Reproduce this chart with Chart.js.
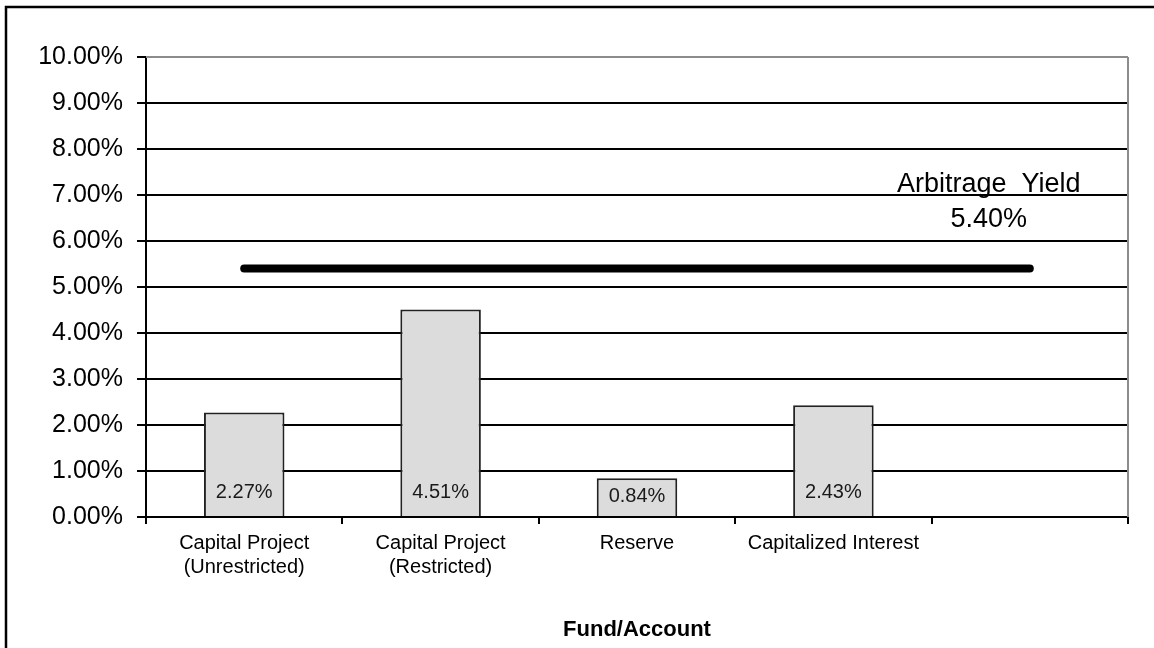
<!DOCTYPE html>
<html>
<head>
<meta charset="utf-8">
<script src="https://cdn.jsdelivr.net/npm/chart.js@4"></script>
<style>
  html, body { margin: 0; padding: 0; background: #fff; }
  #wrap { width: 1154px; height: 648px; position: relative; }
</style>
</head>
<body>
<div id="wrap"><canvas id="c" width="1154" height="648"></canvas></div>
<script>
// ---- data ----
const categories = [["Capital Project", "(Unrestricted)"], ["Capital Project", "(Restricted)"], "Reserve", "Capitalized Interest", ""];
const yieldValues = [2.27, 4.51, 0.84, 2.43, null];
const arbitrageYield = [5.40, 5.40, 5.40, 5.40, 5.40];
const arbitrageLabel = "Arbitrage  Yield";
const xAxisTitle = "Fund/Account";
const yMin = 0, yMax = 10, yStep = 1;

const FONT = "'Liberation Sans', Arial, sans-serif";

const decorPlugin = {
  id: 'decor',
  beforeDraw(chart) {
    const ctx = chart.ctx;
    ctx.save();
    ctx.fillStyle = '#fff';
    ctx.fillRect(0, 0, chart.width, chart.height);
    ctx.strokeStyle = '#000';
    ctx.lineWidth = 2.5;
    ctx.strokeRect(6, 7, 1180, 700);
    ctx.restore();
  },
  beforeDatasetsDraw(chart) {
    const ctx = chart.ctx, a = chart.chartArea;
    ctx.save();
    ctx.strokeStyle = '#8c8c8c';
    ctx.lineWidth = 2;
    ctx.beginPath();
    ctx.moveTo(a.right, a.top);
    ctx.lineTo(a.right, a.bottom);
    ctx.moveTo(a.left, a.top);
    ctx.lineTo(a.right, a.top);
    ctx.stroke();
    ctx.restore();
  },
  afterDatasetsDraw(chart) {
    const ctx = chart.ctx;
    const meta = chart.getDatasetMeta(0);
    ctx.save();
    ctx.fillStyle = '#1a1a1a';
    ctx.font = "20px " + FONT;
    ctx.textAlign = 'center';
    ctx.textBaseline = 'middle';
    meta.data.forEach((bar, i) => {
      const v = yieldValues[i];
      if (v == null) return;
      const h = bar.base - bar.y;
      const off = Math.min(24, h / 2 + 1);
      ctx.fillText(v.toFixed(2) + '%', bar.x, bar.base - off);
    });
    // Arbitrage yield annotation
    const lineMeta = chart.getDatasetMeta(1);
    const last = lineMeta.data[lineMeta.data.length - 1];
    const ys = chart.scales.y;
    const yLine = ys.getPixelForValue(arbitrageYield[arbitrageYield.length - 1]);
    const cx = last.x - 41;
    ctx.fillStyle = '#000';
    ctx.font = "27px " + FONT;
    ctx.fillText(arbitrageLabel, cx, yLine - 84);
    ctx.fillText(arbitrageYield[arbitrageYield.length - 1].toFixed(2) + '%', cx, yLine - 49);
    ctx.restore();
  }
};

new Chart(document.getElementById('c'), {
  data: {
    labels: categories,
    datasets: [
      {
        type: 'bar',
        data: yieldValues,
        backgroundColor: '#dcdcdc',
        borderColor: '#222',
        borderWidth: 2,
        barPercentage: 0.41,
        categoryPercentage: 1.0,
        order: 2
      },
      {
        type: 'line',
        data: arbitrageYield,
        borderColor: '#000',
        borderWidth: 8,
        borderCapStyle: 'round',
        pointRadius: 0,
        fill: false,
        order: 1
      }
    ]
  },
  options: {
    responsive: false,
    animation: false,
    devicePixelRatio: 1,
    layout: { padding: { left: 0, top: 57, right: 26, bottom: 0 } },
    plugins: { legend: { display: false }, tooltip: { enabled: false } },
    scales: {
      x: {
        type: 'category',
        offset: true,
        afterFit(s) { s.height = 131; },
        grid: { display: true, offset: true, drawOnChartArea: false, drawTicks: true, tickLength: 7, color: '#000', tickColor: '#000', lineWidth: 2 },
        border: { display: true, color: '#000', width: 2 },
        ticks: { color: '#000', font: { family: FONT, size: 20, lineHeight: 1.2 }, padding: 7, maxRotation: 0, autoSkip: false },
        title: { display: true, text: xAxisTitle, color: '#000', font: { family: FONT, size: 22, weight: 'bold', lineHeight: 1.2 }, padding: { top: 0, bottom: 5 } }
      },
      y: {
        min: yMin, max: yMax,
        afterFit(s) { s.width = 146; },
        grid: {
          color: (c) => (c.tick && c.tick.value === yMax) ? '#8c8c8c' : '#000',
          tickColor: '#000',
          lineWidth: 2,
          drawTicks: true,
          tickLength: 9
        },
        border: { display: true, color: '#000', width: 2 },
        ticks: {
          stepSize: yStep,
          color: '#000',
          padding: 14,
          font: { family: FONT, size: 25 },
          callback: (v) => Number(v).toFixed(2) + '%'
        }
      }
    }
  },
  plugins: [decorPlugin]
});
</script>
</body>
</html>
